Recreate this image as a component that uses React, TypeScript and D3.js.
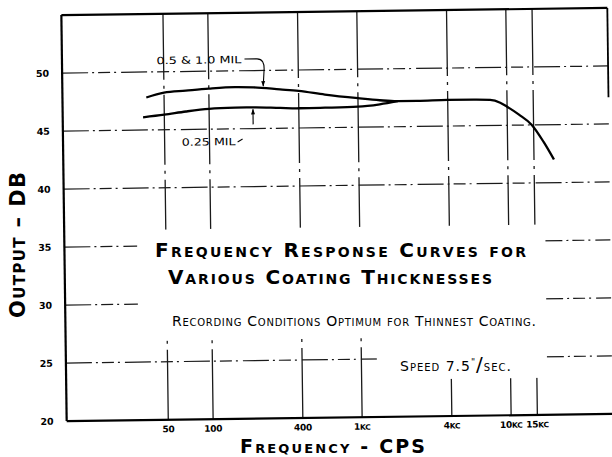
import React, { useEffect, useRef } from 'react';
import * as d3 from 'd3';

// tick values / labels
const yTicks = [20, 25, 30, 35, 40, 45, 50];
const gridDb = [25, 30, 35, 40, 45, 50];
const xTickValues = [50, 100, 400, 1000, 4000, 10000, 15000];
const xTickNums = ['50', '100', '400', '1', '4', '10', '15'];
const xTickUnits = ['', '', '', 'KC', 'KC', 'KC', 'KC'];

// 0.5 & 1.0 mil coating
const thickFreq = [38, 50, 70, 100, 150, 200, 300, 400, 600, 1000, 1400, 1850, 2500, 4000, 6000, 7700, 9000, 10000, 12000, 14600, 17500, 20400];
const thickDb = [47.8, 48.2, 48.35, 48.5, 48.6, 48.55, 48.35, 48.2, 47.85, 47.5, 47.3, 47.2, 47.2, 47.25, 47.25, 47.2, 46.95, 46.6, 45.9, 45.0, 43.5, 42.0];

// 0.25 mil coating
const thinFreq = [36, 50, 70, 100, 150, 200, 300, 400, 600, 1000, 1400, 1850];
const thinDb = [46.1, 46.3, 46.55, 46.75, 46.82, 46.83, 46.75, 46.7, 46.72, 46.77, 46.95, 47.2];

// areas left blank behind the lettering (freq range, dB range)
const blankFreq = [[32, 17600], [1270, 17600]];
const blankDb = [[26.85, 36.4], [23.2, 26.85]];

const FONT = 'DejaVu Sans, sans-serif';

const interp = (fs, vs, f) => {
  const lf = Math.log10(f);
  for (let i = 0; i < fs.length - 1; i++) {
    const a = Math.log10(fs[i]), b = Math.log10(fs[i + 1]);
    if (lf >= a && lf <= b) return vs[i] + (vs[i + 1] - vs[i]) * (lf - a) / (b - a);
  }
  return vs[vs.length - 1];
};

const App = () => {
  const ref = useRef(null);

  useEffect(() => {
    const W = 612, H = 457;
    d3.select(ref.current).selectAll('*').remove();
    const svg = d3.select(ref.current).append('svg')
      .attr('width', W).attr('height', H)
      .style('position', 'absolute').style('left', 0).style('top', 0)
      .style('background', '#fff');

    const x = d3.scaleLog().domain([10.4, 48000]).range([64, 610]);
    const y = d3.scaleLinear().domain([20, 55]).range([417.5, 11.5]);
    const [f0, f1] = x.domain();
    const [d0, d1] = y.domain();

    // the plate is slightly rotated on the page
    const g = svg.append('g').attr('transform', 'rotate(-0.75, 337, 215)');

    // grid
    g.selectAll('.hgrid').data(gridDb).enter().append('line')
      .attr('x1', x(f0)).attr('x2', x(f1))
      .attr('y1', d => y(d)).attr('y2', d => y(d))
      .attr('stroke', '#1a1a1a').attr('stroke-width', 1.2)
      .attr('stroke-dasharray', '26,4,2,4,12,4,2,5');
    g.selectAll('.vgrid').data(xTickValues).enter().append('line')
      .attr('x1', d => x(d)).attr('x2', d => x(d))
      .attr('y1', y(d0)).attr('y2', y(d1))
      .attr('stroke', '#1a1a1a').attr('stroke-width', 1.3)
      .attr('stroke-dasharray', '70,6,3,6');

    g.selectAll('.blank').data(blankFreq).enter().append('rect')
      .attr('x', d => x(d[0])).attr('width', d => x(d[1]) - x(d[0]))
      .attr('y', (d, i) => y(blankDb[i][1]))
      .attr('height', (d, i) => y(blankDb[i][0]) - y(blankDb[i][1]))
      .attr('fill', '#fff');

    // frame
    const frame = g.append('g').attr('stroke', '#000').attr('fill', 'none');
    frame.append('line').attr('x1', x(f0)).attr('x2', x(f1)).attr('y1', y(d1)).attr('y2', y(d1)).attr('stroke-width', 2.2);
    frame.append('line').attr('x1', x(f0)).attr('x2', x(f0)).attr('y1', y(d1)).attr('y2', y(d0)).attr('stroke-width', 2.2);
    frame.append('line').attr('x1', x(f0)).attr('x2', x(f1)).attr('y1', y(d0)).attr('y2', y(d0)).attr('stroke-width', 2.2);
    frame.append('line').attr('x1', x(f1)).attr('x2', x(f1)).attr('y1', y(d1)).attr('y2', y(47.3)).attr('stroke-width', 1.8);

    // tick labels
    g.selectAll('.ylab').data(yTicks).enter().append('text')
      .attr('x', x(f0) - 13).attr('y', d => y(d) + 3.5)
      .attr('text-anchor', 'end')
      .style('font-family', FONT).style('font-weight', 'bold').style('font-size', '9.5px')
      .text(d => d);
    const xl = g.selectAll('.xlab').data(xTickValues).enter().append('text')
      .attr('x', d => x(d)).attr('y', y(d0) + 12.5)
      .attr('text-anchor', 'middle')
      .style('font-family', FONT).style('font-weight', 'bold').style('font-size', '9px')
      .style('letter-spacing', '-0.3px');
    xl.append('tspan').text((d, i) => xTickNums[i]);
    xl.append('tspan').style('font-size', '7.5px').text((d, i) => xTickUnits[i]);

    // curves
    const line = d3.line().x(d => x(d[0])).y(d => y(d[1])).curve(d3.curveMonotoneX);
    g.append('path').datum(thickFreq.map((f, i) => [f, thickDb[i]]))
      .attr('d', line).attr('fill', 'none').attr('stroke', '#000').attr('stroke-width', 2.3);
    g.append('path').datum(thinFreq.map((f, i) => [f, thinDb[i]]))
      .attr('d', line).attr('fill', 'none').attr('stroke', '#000').attr('stroke-width', 2.3);

    // curve labels + leaders
    const l1x = x(44.8), l1y = y(50.66), l1w = 85;
    g.append('text').attr('x', l1x).attr('y', l1y)
      .attr('textLength', l1w).attr('lengthAdjust', 'spacingAndGlyphs')
      .style('font-family', FONT).style('font-size', '10px')
      .text('0.5 & 1.0 MIL');
    const t1x = x(232), t1y = y(interp(thickFreq, thickDb, 232));
    g.append('path')
      .attr('d', `M${l1x + l1w + 3},${l1y - 4} H${t1x - 6} Q${t1x + 2},${l1y - 4} ${t1x + 1},${l1y + 8} L${t1x},${t1y - 2}`)
      .attr('fill', 'none').attr('stroke', '#000').attr('stroke-width', 1.1);
    g.append('path')
      .attr('d', `M${t1x - 2},${t1y - 7} L${t1x},${t1y - 1.5} L${t1x + 2},${t1y - 7} Z`)
      .attr('fill', '#000');

    const l2x = x(65), l2y = y(43.6), l2w = 54;
    g.append('text').attr('x', l2x).attr('y', l2y)
      .attr('textLength', l2w).attr('lengthAdjust', 'spacingAndGlyphs')
      .style('font-family', FONT).style('font-size', '10px')
      .text('0.25 MIL');
    g.append('path')
      .attr('d', `M${l2x + l2w + 2},${l2y - 3} L${l2x + l2w + 7},${l2y - 6}`)
      .attr('fill', 'none').attr('stroke', '#000').attr('stroke-width', 1);
    const t2x = x(197), t2y = y(interp(thinFreq, thinDb, 197));
    g.append('path')
      .attr('d', `M${t2x},${t2y + 17} L${t2x},${t2y + 2}`)
      .attr('fill', 'none').attr('stroke', '#000').attr('stroke-width', 1.1);
    g.append('path')
      .attr('d', `M${t2x - 2},${t2y + 7} L${t2x},${t2y + 1.5} L${t2x + 2},${t2y + 7} Z`)
      .attr('fill', '#000');

    // lettering
    const caps = sel => sel.style('font-family', FONT).style('font-variant', 'small-caps');
    caps(svg.append('text')).attr('x', 155).attr('y', 257)
      .attr('textLength', 371).attr('lengthAdjust', 'spacing')
      .style('font-weight', 'bold').style('font-size', '20px')
      .text('Frequency Response Curves for');
    caps(svg.append('text')).attr('x', 168).attr('y', 284)
      .attr('textLength', 324).attr('lengthAdjust', 'spacing')
      .style('font-weight', 'bold').style('font-size', '20px')
      .text('Various Coating Thicknesses');
    caps(svg.append('text')).attr('x', 172).attr('y', 326)
      .attr('textLength', 364).attr('lengthAdjust', 'spacing')
      .style('font-size', '14px')
      .text('Recording Conditions Optimum for Thinnest Coating.');
    const sp = caps(svg.append('text')).attr('x', 400).attr('y', 371)
      .style('font-size', '14px').style('letter-spacing', '1px');
    sp.append('tspan').text('Speed 7.5');
    sp.append('tspan').attr('dy', -6).style('font-size', '9px').text('"');
    sp.append('tspan').attr('dy', 6).style('font-size', '20px').style('font-variant', 'normal').text('/');
    sp.append('tspan').text('sec.');

    caps(svg.append('text'))
      .attr('transform', 'translate(25,245) rotate(-90)')
      .attr('text-anchor', 'middle')
      .attr('textLength', 146).attr('lengthAdjust', 'spacing')
      .style('font-weight', 'bold').style('font-size', '21px')
      .text('Output \u2013 DB');
    caps(svg.append('text')).attr('x', 240).attr('y', 453)
      .attr('textLength', 185).attr('lengthAdjust', 'spacing')
      .style('font-weight', 'bold').style('font-size', '19px')
      .text('Frequency - CPS');
  }, []);

  return <div ref={ref} />;
};

export default App;
